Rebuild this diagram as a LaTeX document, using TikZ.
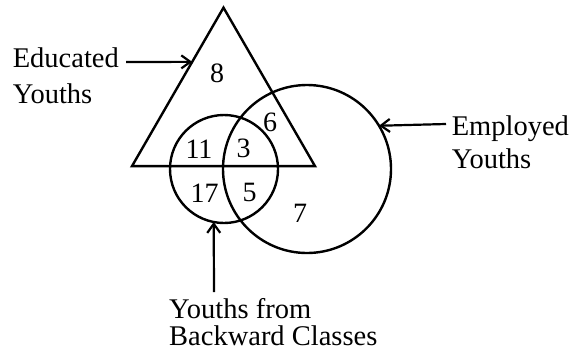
\documentclass[tikz,border=0pt]{standalone}
\usepackage{fontspec}
\setmainfont{Liberation Serif}
\usetikzlibrary{shapes.geometric, arrows.meta, calc}
\tikzset{
  setshape/.style={draw, line width=2.4pt, outer sep=0pt, inner sep=0pt},
  label/.style={font=\fontsize{28.5}{#1}\selectfont, align=left, inner sep=0pt, anchor=north west},
  label/.default=34pt,
  count/.style={font=\fontsize{28}{34}\selectfont, inner sep=0pt},
  arrow/.style={-{Straight Barb[length=9pt, width=13pt]}, line width=2.2pt},
}

\begin{document}
\begin{tikzpicture}[x=1pt, y=-1pt]
        \useasboundingbox (0,0) rectangle (569,354);
        % sets
        \node[setshape, regular polygon, regular polygon sides=3, minimum size=211.3pt] (edus) at (223.5,113.3) {};
        \node[setshape, circle, minimum size=108pt] (bcs) at (224,169) {};
        \node[setshape, circle, minimum size=168pt] (emps) at (307,169) {};
        \draw[line width=2.4pt] (edus.corner 2) -- (edus.corner 3);

        % counts
        \node[count] (n8) at (217,73) {8};
        \node[count] (n6) at (270,122) {6};
        \node[count] (n11) at (199,149) {11};
        \node[count] (n3) at (243.5,148) {3};
        \node[count] (n17) at (204.5,193) {17};
        \node[count] (n5) at (249.5,192) {5};
        \node[count] (n7) at (300,213) {7};

        % labels
        \node[label=36pt] (edu) at (12.6,47.5) {Educated\\Youths};
        \node[label=33pt] (emp) at (451.6,115.5) {Employed\\Youths};
        \node[label=27pt] (bc) at (169,298.5) {Youths from\\Backward Classes};

        % arrows
        \coordinate (eduend) at (126,62);
        \coordinate (empend) at (446,124);
        \coordinate (bcend) at (214,292);
        \draw[arrow] (eduend) -- ($(edus.corner 1)!0.342!(edus.corner 2)$);
        \draw[arrow] (empend) -- (emps.31);
        \draw[arrow] (bcend) -- (bcs.259);
\end{tikzpicture}
\end{document}
